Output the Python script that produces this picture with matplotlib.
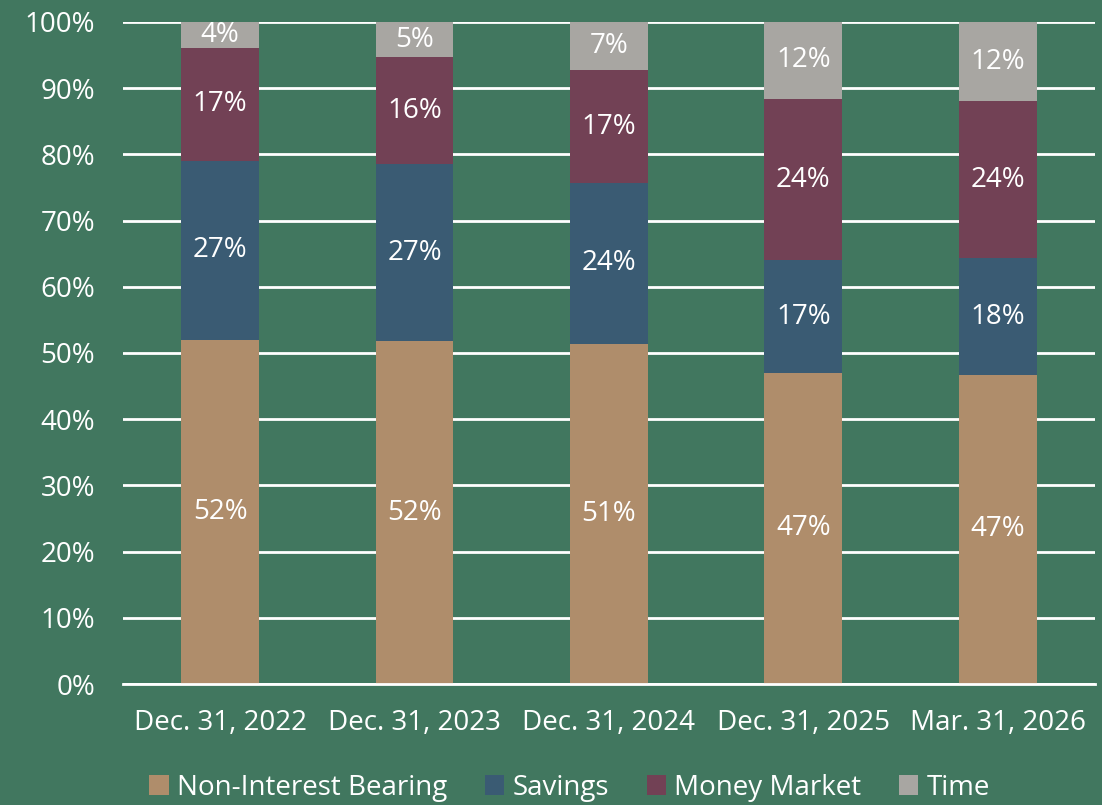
import matplotlib.pyplot as plt
import numpy as np

plt.rcParams['font.family'] = ['Open Sans', 'DejaVu Sans']

# data (share of total deposits, %)
periods = ['Dec. 31, 2022', 'Dec. 31, 2023', 'Dec. 31, 2024', 'Dec. 31, 2025', 'Mar. 31, 2026']
non_interest = [52.0, 51.8, 51.4, 47.0, 46.7]
savings = [27.0, 26.7, 24.3, 17.0, 17.6]
money_market = [17.1, 16.2, 17.0, 24.4, 23.7]
time_dep = [3.9, 5.3, 7.3, 11.6, 12.0]

series = [('Non-Interest Bearing', non_interest, '#AF8D6B'),
          ('Savings', savings, '#3A5B73'),
          ('Money Market', money_market, '#724155'),
          ('Time', time_dep, '#A8A6A2')]

bg = '#41775F'
fs = 20
fig = plt.figure(figsize=(11.02, 8.05), dpi=100, facecolor=bg)
ax = fig.add_axes([0.1116, 0.1503, 0.882, 0.8224])
ax.set_facecolor(bg)

x = np.arange(len(periods))
bottom = np.zeros(len(periods))
for name, vals, col in series:
    vals = np.array(vals)
    ax.bar(x, vals, 0.4, bottom=bottom, color=col, label=name, zorder=3)
    for xi, b, v in zip(x, bottom, vals):
        ax.text(xi, b + v / 2, f'{v:.0f}%', ha='center', va='center',
                color='white', fontsize=fs, zorder=4)
    bottom += vals

ax.set_xlim(-0.5, len(periods) - 0.5)
ax.set_ylim(0, 100)
ax.set_yticks(np.arange(0, 101, 10))
ax.set_yticklabels([f'{t}%' for t in range(0, 101, 10)])
ax.set_xticks(x)
ax.set_xticklabels(periods)
ax.tick_params(colors='white', labelsize=fs, length=0)
ax.tick_params(axis='x', pad=18)
ax.tick_params(axis='y', pad=20)
ax.yaxis.grid(True, color='white', linewidth=2, zorder=0)
for s in ['left', 'right', 'top']:
    ax.spines[s].set_visible(False)
ax.spines['bottom'].set_color('white')
ax.spines['bottom'].set_linewidth(2)
ax.spines['bottom'].set_zorder(5)

leg = fig.legend(loc='lower center', bbox_to_anchor=(0.517, -0.027), ncol=4,
                 frameon=False, fontsize=fs, handlelength=0.7, handleheight=0.7,
                 handletextpad=0.3, columnspacing=1.35)
for t in leg.get_texts():
    t.set_color('white')

fig.savefig('out.png', dpi=100, facecolor=bg)
